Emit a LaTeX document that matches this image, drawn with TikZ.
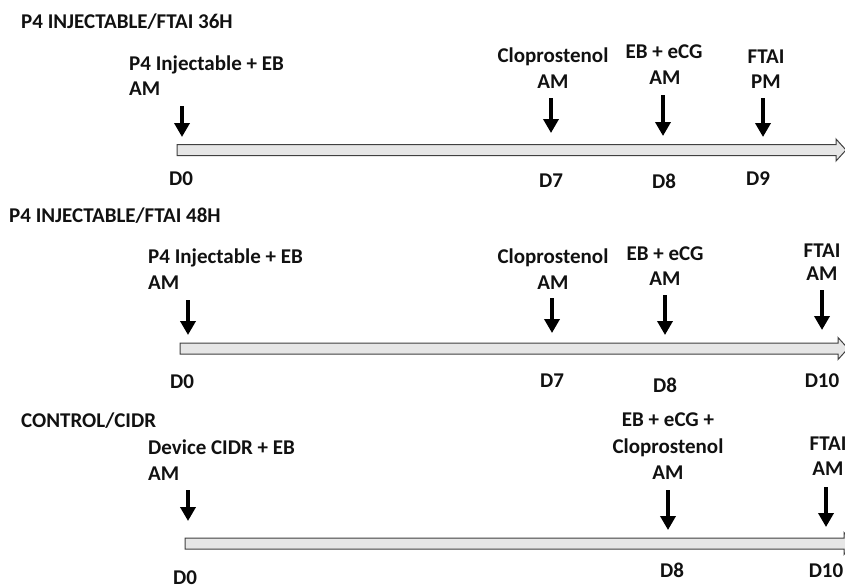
\documentclass[tikz,border=0pt]{standalone}
\usepackage{fontspec}
\setmainfont{Carlito}
\usetikzlibrary{arrows.meta}
\definecolor{txt}{HTML}{111111}
\definecolor{barfill}{HTML}{E6E6E6}
\definecolor{barline}{HTML}{404040}
\begin{document}
\begin{tikzpicture}[x=1pt,y=-1pt,
  lbl/.style={font=\fontsize{21}{25}\selectfont\bfseries, text=txt, inner sep=0pt},
  ctr/.style={lbl, anchor=base},
  lft/.style={lbl, anchor=base west},
  evt/.style={-{Triangle[width=15pt,length=14pt]}, line width=4.5pt, draw=black},
  bar/.style={fill=barfill, draw=barline, line width=1pt}]
\useasboundingbox (0,0) rectangle (845,587);
\clip (0,0) rectangle (845,587);

% ---------- Panel 1 ----------
\node[lft] (t1) at (21,28) {P4 INJECTABLE/FTAI 36H};
\node[lft] (a1) at (129,70) {P4 Injectable + EB};
\node[lft] (a1b) at (129,95) {AM};
\node[ctr] (b1) at (553,62) {Cloprostenol};
\node[ctr] (b1b) at (553,88) {AM};
\node[ctr] (c1) at (664,58) {EB + eCG};
\node[ctr] (c1b) at (665,84) {AM};
\node[ctr] (e1) at (766,63) {FTAI};
\node[ctr] (e1b) at (766,88) {PM};
\coordinate (a1s) at (182,106); \coordinate (a1e) at (182,137);
\coordinate (b1s) at (551,98);  \coordinate (b1e) at (551,133);
\coordinate (c1s) at (663,95);  \coordinate (c1e) at (663,136);
\coordinate (e1s) at (763,98);  \coordinate (e1e) at (763,137);
\draw[evt] (a1s) -- (a1e);
\draw[evt] (b1s) -- (b1e);
\draw[evt] (c1s) -- (c1e);
\draw[evt] (e1s) -- (e1e);
\path[bar] (177,144.5) -- (836,144.5) -- (836,139) -- (846,150) -- (836,161) -- (836,155.5) -- (177,155.5) -- cycle;
\node[ctr] (d10) at (181,185) {D0};
\node[ctr] (d17) at (551,187) {D7};
\node[ctr] (d18) at (664,188) {D8};
\node[ctr] (d19) at (758,185) {D9};

% ---------- Panel 2 ----------
\node[lft] (t2) at (9,222) {P4 INJECTABLE/FTAI 48H};
\node[lft] (a2) at (148,263) {P4 Injectable + EB};
\node[lft] (a2b) at (148,289) {AM};
\node[ctr] (b2) at (553,263) {Cloprostenol};
\node[ctr] (b2b) at (553,289) {AM};
\node[ctr] (c2) at (665,260) {EB + eCG};
\node[ctr] (c2b) at (665,285) {AM};
\node[ctr] (e2) at (822,257) {FTAI};
\node[ctr] (e2b) at (822,280) {AM};
\coordinate (a2s) at (188,300); \coordinate (a2e) at (188,335);
\coordinate (b2s) at (552,298); \coordinate (b2e) at (552,333);
\coordinate (c2s) at (665,295); \coordinate (c2e) at (665,335);
\coordinate (e2s) at (822,290); \coordinate (e2e) at (822,330);
\draw[evt] (a2s) -- (a2e);
\draw[evt] (b2s) -- (b2e);
\draw[evt] (c2s) -- (c2e);
\draw[evt] (e2s) -- (e2e);
\path[bar] (180,343) -- (838,343) -- (838,337.5) -- (848,348.5) -- (838,359.5) -- (838,354) -- (180,354) -- cycle;
\node[ctr] (d20) at (182,388) {D0};
\node[ctr] (d27) at (552,387) {D7};
\node[ctr] (d28) at (665,392) {D8};
\node[ctr] (d210) at (822,387) {D10};

% ---------- Panel 3 ----------
\node[lft] (t3) at (21,427) {CONTROL/CIDR};
\node[lft] (a3) at (148,454) {Device CIDR + EB};
\node[lft] (a3b) at (148,480) {AM};
\node[ctr] (c3) at (668,426) {EB + eCG +};
\node[ctr] (c3b) at (668,453) {Cloprostenol};
\node[ctr] (c3c) at (668,479) {AM};
\node[ctr] (e3) at (828,450) {FTAI};
\node[ctr] (e3b) at (828,475) {AM};
\coordinate (a3s) at (188,490); \coordinate (a3e) at (188,521);
\coordinate (c3s) at (668,490); \coordinate (c3e) at (668,530);
\coordinate (e3s) at (826,487); \coordinate (e3e) at (826,527);
\draw[evt] (a3s) -- (a3e);
\draw[evt] (c3s) -- (c3e);
\draw[evt] (e3s) -- (e3e);
\path[bar] (185,538) -- (844,538) -- (844,532.5) -- (854,543.5) -- (844,554.5) -- (844,549) -- (185,549) -- cycle;
\node[ctr] (d30) at (185,584) {D0};
\node[ctr] (d38) at (672,577) {D8};
\node[ctr] (d310) at (826,577) {D10};
\end{tikzpicture}
\end{document}
